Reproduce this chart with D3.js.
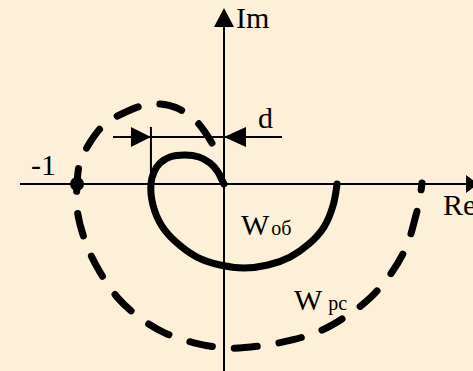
<!DOCTYPE html>
<html>
<head>
<meta charset="utf-8">
<script src="https://cdn.jsdelivr.net/npm/d3@7"></script>
<style>
  html, body { margin: 0; padding: 0; background: #fdf0d8; }
  svg { display: block; }
  text { font-family: "Liberation Serif", "DejaVu Serif", serif; fill: #000; }
</style>
</head>
<body>
<script>
// W_ob curve, from origin round the loop and out to the Re axis (re, im)
var wobRe = [0, -0.014, -0.041, -0.095, -0.17, -0.265, -0.367, -0.435, -0.476, -0.497, -0.483, -0.422, -0.32, -0.184, -0.027, 0.136, 0.299, 0.449, 0.578, 0.68, 0.741, 0.769];
var wobIm = [0, 0.027, 0.082, 0.143, 0.184, 0.197, 0.184, 0.143, 0.082, 0, -0.143, -0.286, -0.401, -0.497, -0.551, -0.571, -0.551, -0.497, -0.408, -0.293, -0.15, 0];

// W_pc curve (dashed), passes through -1
var wpcRe = [-0.082, -0.19, -0.32, -0.435, -0.537, -0.653, -0.81, -0.905, -0.98, -1.0, -0.995, -0.932, -0.844, -0.721, -0.571, -0.401, -0.197, 0.02, 0.245, 0.463, 0.653, 0.823, 0.993, 1.143, 1.245, 1.306, 1.333, 1.347];
var wpcIm = [0.279, 0.429, 0.517, 0.544, 0.537, 0.497, 0.408, 0.293, 0.143, 0, -0.2, -0.422, -0.599, -0.776, -0.912, -1.014, -1.082, -1.116, -1.102, -1.061, -1.0, -0.905, -0.776, -0.599, -0.415, -0.211, -0.095, 0.007];

// margin d: from leftmost point of the loop to the origin
var dFrom = -0.497;
var dTo = 0;
var dLevel = 0.32;

var width = 473, height = 371;

var svg = d3.select("body").append("svg")
  .attr("width", width)
  .attr("height", height);

var x = d3.scaleLinear().domain([-1, 0]).range([77, 224]);
var y = d3.scaleLinear().domain([0, -1]).range([184, 331]);

// axes
svg.append("line")
  .attr("x1", 20).attr("x2", 466)
  .attr("y1", y(0)).attr("y2", y(0))
  .attr("stroke", "#000").attr("stroke-width", 2);
svg.append("path")
  .attr("d", "M466," + (y(0) - 9) + "L478," + y(0) + "L466," + (y(0) + 9) + "Z")
  .attr("fill", "#000");

svg.append("line")
  .attr("x1", x(0)).attr("x2", x(0))
  .attr("y1", 26).attr("y2", height)
  .attr("stroke", "#000").attr("stroke-width", 2);
svg.append("path")
  .attr("d", "M" + (x(0) - 10) + ",27L" + x(0) + ",8L" + (x(0) + 10) + ",27Z")
  .attr("fill", "#000");

svg.append("text").attr("x", 236).attr("y", 28).attr("font-size", 30).text("Im");
svg.append("text").attr("x", 443).attr("y", 215).attr("font-size", 30).text("Re");

var line = d3.line()
  .x(function(d) { return x(d[0]); })
  .y(function(d) { return y(d[1]); })
  .curve(d3.curveCatmullRom.alpha(0.5));

// dashed W_pc
svg.append("path")
  .datum(d3.zip(wpcRe, wpcIm))
  .attr("d", line)
  .attr("fill", "none")
  .attr("stroke", "#000")
  .attr("stroke-width", 7)
  .attr("stroke-linecap", "round")
  .attr("stroke-dasharray", "23,22");

// solid W_ob
svg.append("path")
  .datum(d3.zip(wobRe, wobIm))
  .attr("d", line)
  .attr("fill", "none")
  .attr("stroke", "#000")
  .attr("stroke-width", 7)
  .attr("stroke-linecap", "round");

// -1 point
svg.append("circle")
  .attr("cx", x(-1)).attr("cy", y(0)).attr("r", 7)
  .attr("fill", "#000");
svg.append("text").attr("x", 31).attr("y", 175).attr("font-size", 30).text("-1");

// d dimension
svg.append("line")
  .attr("x1", 113).attr("x2", 282)
  .attr("y1", y(dLevel)).attr("y2", y(dLevel))
  .attr("stroke", "#000").attr("stroke-width", 2);
svg.append("line")
  .attr("x1", x(dFrom)).attr("x2", x(dFrom))
  .attr("y1", y(dLevel) - 10).attr("y2", y(0))
  .attr("stroke", "#000").attr("stroke-width", 2);
svg.append("path")
  .attr("d", "M" + (x(dFrom) - 20) + "," + (y(dLevel) - 10) + "L" + x(dFrom) + "," + y(dLevel) +
             "L" + (x(dFrom) - 20) + "," + (y(dLevel) + 10) + "Z")
  .attr("fill", "#000");
svg.append("path")
  .attr("d", "M" + (x(dTo) + 22) + "," + (y(dLevel) - 10) + "L" + x(dTo) + "," + y(dLevel) +
             "L" + (x(dTo) + 22) + "," + (y(dLevel) + 10) + "Z")
  .attr("fill", "#000");
svg.append("text").attr("x", 258).attr("y", 128).attr("font-size", 30).text("d");

// curve labels
var t1 = svg.append("text").attr("x", 241).attr("y", 235).attr("font-size", 30);
t1.append("tspan").text("W");
t1.append("tspan").attr("font-size", 20).attr("dx", 2).text("об");

var t2 = svg.append("text").attr("x", 294).attr("y", 310).attr("font-size", 30);
t2.append("tspan").text("W");
t2.append("tspan").attr("font-size", 20).attr("dx", 6).text("pc");
</script>
</body>
</html>
